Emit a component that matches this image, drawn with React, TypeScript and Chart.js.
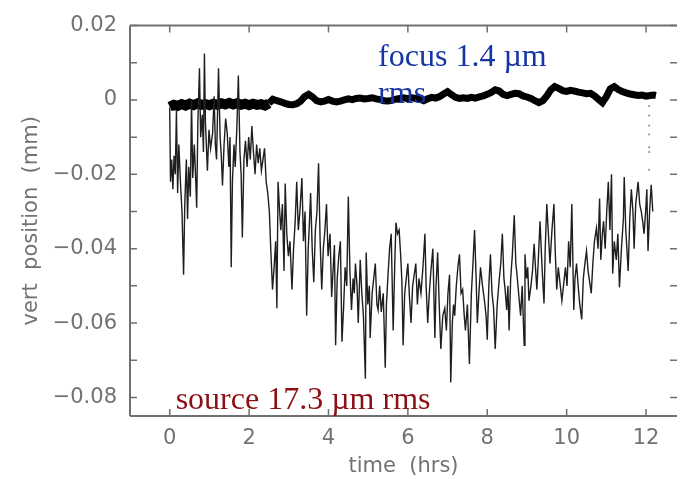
import React, { useEffect, useRef } from "react";
import { Chart, registerables } from "chart.js";

Chart.register(...registerables);

// ---- data ----
const sourceTimes = [
  0.0, 0.02, 0.05, 0.08, 0.11, 0.14, 0.17, 0.2, 0.23, 0.27, 0.31, 0.35, 0.38, 0.42, 0.45, 0.48, 0.52, 0.55, 0.58, 0.62,
  0.65, 0.68, 0.71, 0.75, 0.78, 0.82, 0.85, 0.875, 0.9, 0.95, 0.99, 1.03, 1.08, 1.12, 1.15, 1.18, 1.23, 1.27, 1.3, 1.33,
  1.37, 1.41, 1.45, 1.49, 1.52, 1.55, 1.58, 1.62, 1.65, 1.69, 1.73, 1.77, 1.8, 1.83, 1.87, 1.91, 1.95, 1.99, 2.03, 2.07,
  2.11, 2.15, 2.19, 2.23, 2.27, 2.31, 2.35, 2.39, 2.43, 2.47, 2.51, 2.55, 2.59, 2.63, 2.67, 2.7, 2.73, 2.77, 2.8, 2.84,
  2.88, 2.91, 2.95, 2.99, 3.03, 3.08, 3.12, 3.16, 3.2, 3.24, 3.28, 3.33, 3.37, 3.41, 3.45, 3.49, 3.52, 3.55, 3.59, 3.63,
  3.67, 3.71, 3.75, 3.79, 3.83, 3.87, 3.91, 3.95, 3.99, 4.04, 4.08, 4.12, 4.15, 4.18, 4.22, 4.26, 4.3, 4.34, 4.38, 4.42,
  4.46, 4.5, 4.54, 4.58, 4.62, 4.65, 4.68, 4.72, 4.75, 4.8, 4.84, 4.88, 4.93, 4.95, 4.99, 5.03, 5.05, 5.1, 5.14, 5.18,
  5.22, 5.25, 5.29, 5.33, 5.38, 5.43, 5.46, 5.5, 5.54, 5.58, 5.63, 5.67, 5.7, 5.74, 5.78, 5.82, 5.85, 5.88, 5.92, 5.96,
  6.0, 6.04, 6.08, 6.12, 6.16, 6.2, 6.24, 6.28, 6.33, 6.38, 6.43, 6.46, 6.5, 6.54, 6.58, 6.63, 6.68, 6.71, 6.75, 6.79,
  6.83, 6.88, 6.93, 6.97, 7.01, 7.05, 7.08, 7.12, 7.15, 7.18, 7.22, 7.26, 7.3, 7.34, 7.38, 7.42, 7.45, 7.5, 7.55, 7.6,
  7.64, 7.68, 7.72, 7.75, 7.79, 7.83, 7.88, 7.93, 7.97, 8.0, 8.04, 8.08, 8.12, 8.16, 8.2, 8.25, 8.3, 8.34, 8.38, 8.42,
  8.45, 8.49, 8.52, 8.55, 8.59, 8.63, 8.68, 8.72, 8.75, 8.79, 8.84, 8.88, 8.93, 8.95, 8.99, 9.02, 9.05, 9.1, 9.14, 9.18,
  9.22, 9.25, 9.29, 9.33, 9.38, 9.43, 9.46, 9.5, 9.54, 9.58, 9.63, 9.68, 9.71, 9.75, 9.79, 9.83, 9.88, 9.93, 9.97, 10.01,
  10.05, 10.09, 10.13, 10.18, 10.21, 10.25, 10.29, 10.33, 10.38, 10.42, 10.46, 10.5, 10.54, 10.58, 10.62, 10.66, 10.7, 10.75, 10.79, 10.83,
  10.86, 10.9, 10.93, 10.97, 11.01, 11.05, 11.09, 11.13, 11.16, 11.2, 11.25, 11.29, 11.33, 11.38, 11.43, 11.45, 11.49, 11.55, 11.59, 11.63,
  11.67, 11.7, 11.74, 11.8, 11.84, 11.88, 11.92, 11.95, 11.99, 12.02, 12.05, 12.09, 12.13, 12.17,
];
const sourceValues = [
  -0.002, -0.022, -0.016, -0.024, -0.015, -0.02, -0.003, -0.025, -0.012, -0.022, -0.03, -0.047, -0.028, -0.016, -0.032, -0.018, -0.026, 0.0, -0.021, -0.012,
  -0.02, -0.029, -0.006, 0.0085, -0.01, -0.004, -0.014, 0.0125, -0.006, -0.019, -0.008, -0.013, -0.009, 0.001, -0.012, -0.016, 0.0085, -0.01, -0.015, -0.023,
  -0.012, -0.005, -0.009, -0.018, -0.01, -0.045, -0.022, -0.012, -0.018, -0.008, 0.0066, -0.014, -0.02, -0.037, -0.016, -0.011, -0.018, -0.01, -0.016, -0.007,
  -0.014, -0.02, -0.012, -0.017, -0.013, -0.019, -0.016, -0.013, -0.022, -0.025, -0.03, -0.041, -0.051, -0.045, -0.038, -0.056, -0.022, -0.03, -0.035, -0.028,
  -0.046, -0.0225, -0.036, -0.042, -0.038, -0.051, -0.04, -0.033, -0.022, -0.035, -0.03, -0.021, -0.038, -0.03, -0.058, -0.04, -0.033, -0.025, -0.04, -0.049,
  -0.035, -0.03, -0.017, -0.038, -0.051, -0.04, -0.035, -0.028, -0.042, -0.036, -0.053, -0.045, -0.039, -0.066, -0.048, -0.042, -0.038, -0.065, -0.056, -0.045,
  -0.05, -0.026, -0.046, -0.0565, -0.048, -0.052, -0.044, -0.05, -0.06, -0.043, -0.052, -0.058, -0.075, -0.041, -0.055, -0.05, -0.064, -0.052, -0.048, -0.044,
  -0.055, -0.0565, -0.05, -0.057, -0.052, -0.072, -0.055, -0.047, -0.04, -0.036, -0.062, -0.044, -0.033, -0.036, -0.035, -0.042, -0.049, -0.066, -0.052, -0.048,
  -0.044, -0.053, -0.06, -0.05, -0.047, -0.044, -0.055, -0.048, -0.052, -0.045, -0.036, -0.05, -0.06, -0.052, -0.046, -0.04, -0.064, -0.05, -0.041, -0.055,
  -0.067, -0.058, -0.056, -0.062, -0.052, -0.047, -0.076, -0.06, -0.055, -0.058, -0.05, -0.045, -0.0415, -0.052, -0.051, -0.058, -0.062, -0.055, -0.071, -0.052,
  -0.044, -0.035, -0.048, -0.06, -0.052, -0.045, -0.05, -0.054, -0.058, -0.0645, -0.05, -0.0415, -0.052, -0.056, -0.067, -0.055, -0.0485, -0.044, -0.036, -0.048,
  -0.051, -0.0565, -0.05, -0.062, -0.048, -0.042, -0.031, -0.044, -0.047, -0.052, -0.058, -0.05, -0.066, -0.0415, -0.048, -0.045, -0.054, -0.05, -0.046, -0.0387,
  -0.046, -0.051, -0.042, -0.0326, -0.045, -0.0547, -0.04, -0.028, -0.036, -0.044, -0.035, -0.028, -0.04, -0.051, -0.045, -0.049, -0.054, -0.049, -0.045, -0.05,
  -0.038, -0.045, -0.028, -0.0565, -0.048, -0.044, -0.05, -0.055, -0.059, -0.048, -0.044, -0.0406, -0.046, -0.049, -0.052, -0.044, -0.038, -0.0345, -0.04, -0.0265,
  -0.043, -0.036, -0.0326, -0.04, -0.03, -0.022, -0.035, -0.02, -0.0467, -0.038, -0.043, -0.036, -0.0504, -0.04, -0.0318, -0.0207, -0.035, -0.046, -0.032, -0.024,
  -0.03, -0.04, -0.028, -0.022, -0.028, -0.03, -0.033, -0.036, -0.03, -0.024, -0.0406, -0.03, -0.0228, -0.03,
];

const focusTimes = [
  0.0, 0.1, 0.2, 0.3, 0.4, 0.5, 0.6, 0.7, 0.8, 0.9, 1.0, 1.1, 1.2, 1.3, 1.4, 1.5, 1.6, 1.7, 1.8, 1.9,
  2.0, 2.1, 2.2, 2.3, 2.4, 2.5, 2.6, 2.7, 2.8, 2.9, 3.0, 3.1, 3.2, 3.3, 3.4, 3.5, 3.6, 3.7, 3.8, 3.9,
  4.0, 4.1, 4.2, 4.3, 4.4, 4.5, 4.6, 4.7, 4.8, 4.9, 5.0, 5.1, 5.2, 5.3, 5.4, 5.5, 5.6, 5.7, 5.8, 5.9,
  6.0, 6.1, 6.2, 6.3, 6.4, 6.5, 6.6, 6.7, 6.8, 6.9, 7.0, 7.1, 7.2, 7.3, 7.4, 7.5, 7.6, 7.7, 7.8, 7.9,
  8.0, 8.1, 8.2, 8.3, 8.4, 8.5, 8.6, 8.7, 8.8, 8.9, 9.0, 9.1, 9.2, 9.3, 9.4, 9.5, 9.6, 9.7, 9.8, 9.9,
  10.0, 10.1, 10.2, 10.3, 10.4, 10.5, 10.6, 10.7, 10.8, 10.9, 11.0, 11.1, 11.2, 11.3, 11.4, 11.5, 11.6, 11.7, 11.8, 11.9,
  12.0, 12.1, 12.2, 12.25,
];
const focusValues = [
  -0.0018, -0.0013, -0.0016, -0.0011, -0.0015, -0.001, -0.0014, -0.0009, -0.0013, -0.0011, -0.0014, -0.001, -0.0013, -0.0009, -0.0012, -0.0008, -0.0012, -0.0009, -0.0013, -0.001,
  -0.0014, -0.001, -0.0013, -0.0011, -0.0015, -0.0009, 0.0002, -0.0002, -0.0005, -0.0009, -0.0012, -0.0013, -0.001, -0.0003, 0.0009, 0.0015, 0.0008, -0.0002, -0.0005, -0.0003,
  0.0001, -0.0003, -0.0005, -0.0003, 0.0, 0.0003, 0.0001, 0.0004, 0.0005, 0.0003, 0.0004, 0.0006, 0.0003, 0.0001, -0.0002, -0.0003, -0.0001, 0.0002, 0.0004, 0.0006,
  0.0003, 0.0006, 0.0004, 0.0002, -0.0002, 0.0003, 0.0007, 0.0005, 0.0009, 0.0016, 0.0022, 0.0014, 0.0007, 0.0004, 0.0006, 0.0004, 0.0007, 0.0005, 0.0008, 0.0011,
  0.0015, 0.002, 0.0027, 0.0024, 0.0015, 0.0012, 0.0015, 0.0018, 0.0017, 0.0011, 0.0008, 0.0004, -0.0002, -0.0007, -0.0002, 0.0011, 0.0027, 0.0036, 0.0031, 0.0025,
  0.0023, 0.0026, 0.0024, 0.0021, 0.0019, 0.0017, 0.0018, 0.0011, 0.0002, -0.0007, 0.0009, 0.003, 0.0036, 0.0028, 0.0023, 0.0019, 0.0016, 0.0014, 0.0012, 0.0013,
  0.001, 0.0012, 0.0013, 0.0012,
];
// the first 2.5 hours of the focus trace are noisier (drawn as a wider band)
const focusNoisyUntil = 2.5;

const dotTimes = [12.08, 12.08, 12.08, 12.08, 12.08, 12.08, 12.08];
const dotValues = [-0.0016, -0.0042, -0.0069, -0.0093, -0.0127, -0.014, -0.0188];

const xTickValues = [0, 2, 4, 6, 8, 10, 12];
const yTickValues = [-0.08, -0.06, -0.04, -0.02, 0, 0.02];
const yMinorValues = [-0.07, -0.05, -0.03, -0.01, 0.01];

const annotations = [
  { text: "focus 1.4 \u00b5m", t: 5.25, v: 0.009, color: "#1636a6" },
  { text: "rms", t: 5.25, v: -0.0008, color: "#1636a6" },
  { text: "source 17.3 \u00b5m rms", t: 0.15, v: -0.083, color: "#8c1014" },
];

const AXIS_FONT = { family: "'DejaVu Sans', sans-serif", size: 21, weight: "normal" as any };
const AXIS_COLOR = "#727272";

const framePlugin = {
  id: "frame",
  beforeDatasetsDraw(chart: any) {
    const { ctx, chartArea, scales } = chart;
    const { left, right, top, bottom } = chartArea;
    const x = scales.x;
    const y = scales.y;
    ctx.save();
    ctx.strokeStyle = "#707070";
    ctx.lineWidth = 2;
    ctx.beginPath();
    ctx.moveTo(left, top);
    ctx.lineTo(right, top);
    ctx.moveTo(left, top);
    ctx.lineTo(left, bottom);
    ctx.moveTo(left, bottom);
    ctx.lineTo(right, bottom);
    ctx.stroke();
    ctx.lineWidth = 1.5;
    ctx.beginPath();
    for (const v of xTickValues) {
      const px = x.getPixelForValue(v);
      ctx.moveTo(px, bottom);
      ctx.lineTo(px, bottom - 7);
      ctx.moveTo(px, top);
      ctx.lineTo(px, top + 7);
    }
    for (const v of [...yTickValues, ...yMinorValues]) {
      const py = y.getPixelForValue(v);
      ctx.moveTo(left, py);
      ctx.lineTo(left + 7, py);
      ctx.moveTo(right, py);
      ctx.lineTo(right - 7, py);
    }
    ctx.stroke();
    ctx.restore();
  },
  afterDatasetsDraw(chart: any) {
    const { ctx, scales } = chart;
    ctx.save();
    ctx.font = "32px 'Liberation Serif', 'Times New Roman', serif";
    ctx.textBaseline = "alphabetic";
    ctx.textAlign = "left";
    for (const a of annotations) {
      ctx.fillStyle = a.color;
      ctx.fillText(a.text, scales.x.getPixelForValue(a.t), scales.y.getPixelForValue(a.v));
    }
    ctx.restore();
  },
};

export default function App() {
  const ref = useRef<HTMLCanvasElement>(null);
  useEffect(() => {
    document.body.style.margin = "0";
    const canvas = ref.current!;
    const focusPts = focusTimes.map((t, i) => ({ x: t, y: focusValues[i] }));
    const chart = new Chart(canvas, {
      type: "line",
      data: {
        datasets: [
          {
            data: sourceTimes.map((t, i) => ({ x: t, y: sourceValues[i] })),
            borderColor: "#1e1e1e",
            borderWidth: 1.4,
            pointRadius: 0,
            tension: 0,
          },
          {
            data: focusPts.filter((p) => p.x <= focusNoisyUntil),
            borderColor: "#000000",
            borderWidth: 10,
            pointRadius: 0,
            tension: 0,
          },
          {
            data: focusPts.filter((p) => p.x >= focusNoisyUntil),
            borderColor: "#000000",
            borderWidth: 7,
            pointRadius: 0,
            tension: 0,
          },
          {
            data: dotTimes.map((t, i) => ({ x: t, y: dotValues[i] })),
            showLine: false,
            pointRadius: 1,
            pointBackgroundColor: "#888",
            pointBorderWidth: 0,
          },
        ],
      },
      options: {
        animation: false,
        responsive: false,
        devicePixelRatio: 1,
        layout: { padding: { top: 20, right: 0, left: 0, bottom: 0 } },
        plugins: { legend: { display: false }, tooltip: { enabled: false } },
        scales: {
          x: {
            type: "linear",
            min: -1,
            max: 12.78,
            border: { display: false },
            grid: { display: false, drawTicks: false },
            afterBuildTicks: (s: any) => {
              s.ticks = xTickValues.map((v) => ({ value: v }));
            },
            afterFit: (s: any) => {
              s.height = 63;
            },
            ticks: {
              color: AXIS_COLOR,
              font: AXIS_FONT,
              padding: 10,
              maxRotation: 0,
              autoSkip: false,
              callback: (v: any) => String(v),
            },
            title: {
              display: true,
              text: "time  (hrs)",
              color: AXIS_COLOR,
              font: AXIS_FONT,
              padding: { top: 0, bottom: 0 },
            },
          },
          y: {
            type: "linear",
            min: -0.085,
            max: 0.02,
            border: { display: false },
            grid: { display: false, drawTicks: false },
            afterBuildTicks: (s: any) => {
              s.ticks = yTickValues.map((v) => ({ value: v }));
            },
            afterFit: (s: any) => {
              s.width = 130;
            },
            ticks: {
              color: AXIS_COLOR,
              font: AXIS_FONT,
              padding: 13,
              autoSkip: false,
              callback: (v: any) => {
                const n = Number(v);
                if (Math.abs(n) < 1e-9) return "0";
                return n.toFixed(2).replace("-", "\u2212");
              },
            },
            title: {
              display: true,
              text: "vert  position  (mm)",
              color: AXIS_COLOR,
              font: AXIS_FONT,
              padding: { top: 19, bottom: 0 },
            },
          },
        },
      },
      plugins: [framePlugin],
    });
    return () => chart.destroy();
  }, []);
  return <canvas ref={ref} width={681} height={479} style={{ display: "block" }} />;
}
